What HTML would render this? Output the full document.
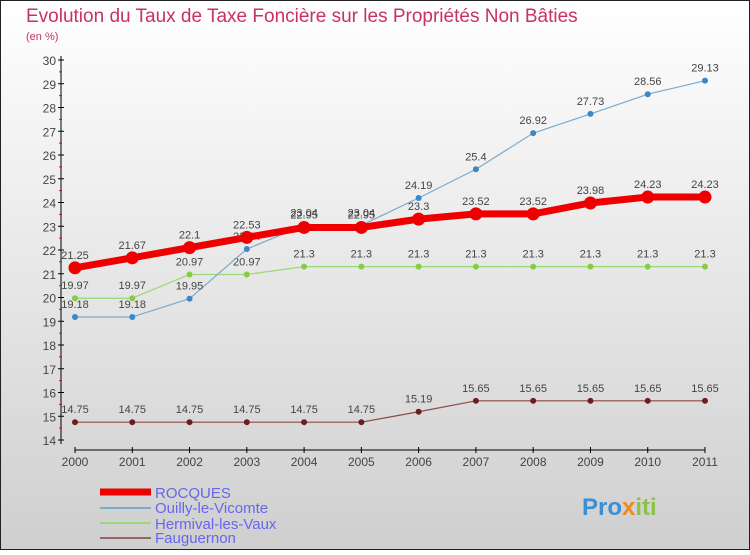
<!DOCTYPE html>
<html><head><meta charset="utf-8"><style>
body{margin:0}
#c{width:750px;height:550px;position:relative;font-family:"Liberation Sans",sans-serif}
</style></head><body>
<div id="c">
<svg id="s" width="750" height="550" xmlns="http://www.w3.org/2000/svg">
<defs><linearGradient id="bg" x1="0" y1="0" x2="0" y2="1"><stop offset="0" stop-color="#ffffff"/><stop offset="1" stop-color="#cfcfcf"/></linearGradient></defs>
<rect x="0.5" y="0.5" width="749" height="549" fill="url(#bg)" stroke="#222"/>
<text x="26" y="22" font-size="19" fill="#c8325f">Evolution du Taux de Taxe Foncière sur les Propriétés Non Bâties</text>
<text x="26" y="40" font-size="11" fill="#c8325f">(en %)</text>
<g id="axes"></g><g id="series"></g>
<g>
<line x1="100" y1="492" x2="151" y2="492" stroke="#e00" stroke-width="7"/>
<text x="155" y="498" font-size="15" fill="#6666ee">ROCQUES</text>
<line x1="100" y1="508" x2="151" y2="508" stroke="#7aaccc" stroke-width="2"/>
<text x="155" y="513" font-size="15" fill="#6666ee">Ouilly-le-Vicomte</text>
<line x1="100" y1="523" x2="151" y2="523" stroke="#99d977" stroke-width="2"/>
<text x="155" y="529" font-size="15" fill="#6666ee">Hermival-les-Vaux</text>
<line x1="100" y1="538" x2="151" y2="538" stroke="#996666" stroke-width="2"/>
<text x="155" y="543" font-size="15" fill="#6666ee">Fauguernon</text>
</g>
<g><text x="582" y="515" font-size="24" font-weight="bold" fill="#3a8fd6">Pro<tspan fill="#f08a1c">x</tspan><tspan fill="#8bc34a">iti</tspan></text></g>
</svg></div>
<script>
const years=[2000,2001,2002,2003,2004,2005,2006,2007,2008,2009,2010,2011];
const rocques=[21.25,21.67,22.1,22.53,22.95,22.95,23.3,23.52,23.52,23.98,24.23,24.23];
const ouilly=[19.18,19.18,19.95,22.04,23.04,23.04,24.19,25.4,26.92,27.73,28.56,29.13];
const hermival=[19.97,19.97,20.97,20.97,21.3,21.3,21.3,21.3,21.3,21.3,21.3,21.3];
const fauguernon=[14.75,14.75,14.75,14.75,14.75,14.75,15.19,15.65,15.65,15.65,15.65,15.65];
const yTicks=[14,15,16,17,18,19,20,21,22,23,24,25,26,27,28,29,30];
const NS="http://www.w3.org/2000/svg";
const x=i=>75+i*(630/11);
const y=v=>440-(v-14)*23.75;
function mk(t,a,p){const e=document.createElementNS(NS,t);for(const k in a)e.setAttribute(k,a[k]);p.appendChild(e);return e;}
const ax=document.getElementById('axes');
const ya=mk('line',{x1:61,y1:y(30)-4,x2:61,y2:y(14)+4,stroke:'#000'},ax);


yTicks.forEach(v=>{
 mk('line',{x1:58,y1:y(v),x2:64,y2:y(v),stroke:'#000'},ax);
 if(v<30)mk('line',{x1:59,y1:y(v+0.5),x2:62,y2:y(v+0.5),stroke:'#e00'},ax);
 const t=mk('text',{x:56,y:y(v)+5,'text-anchor':'end','font-size':12,fill:'#444'},ax);
 t.textContent=v;
 
 
});
const xa=mk('line',{x1:75,y1:450,x2:705,y2:450,stroke:'#000'},ax);


years.forEach((yr,i)=>{
 mk('line',{x1:x(i),y1:447,x2:x(i),y2:453,stroke:'#000'},ax);
 const t=mk('text',{x:x(i),y:466,'text-anchor':'middle','font-size':12,fill:'#444'},ax);
 t.textContent=yr;
 
 
});
const sg=document.getElementById('series');
function series(vals,name,col,w,r,dot){
 const g=mk('g',{},sg);
 
 
 mk('polyline',{points:vals.map((v,i)=>x(i)+','+y(v)).join(' '),fill:'none',stroke:col,'stroke-width':w,'stroke-linejoin':'round'},g);
 vals.forEach((v,i)=>{
  const c=mk('circle',{cx:x(i),cy:y(v),r:r,fill:dot},g);
  
  
  const t=mk('text',{x:x(i),y:y(v)-9,'text-anchor':'middle','font-size':11,fill:'#444'},g);
  t.textContent=v;
  
  
 });
}
series(fauguernon,'fauguernon','#8b4a4a',1.2,3,'#6b1e1e');
series(hermival,'hermival','#99d977',1.2,3,'#88cc44');
series(ouilly,'ouilly','#7aaccc',1.2,3,'#3a88c8');
series(rocques,'rocques','#ee0000',7,6.5,'#ee0000');
</script>
</body></html>
